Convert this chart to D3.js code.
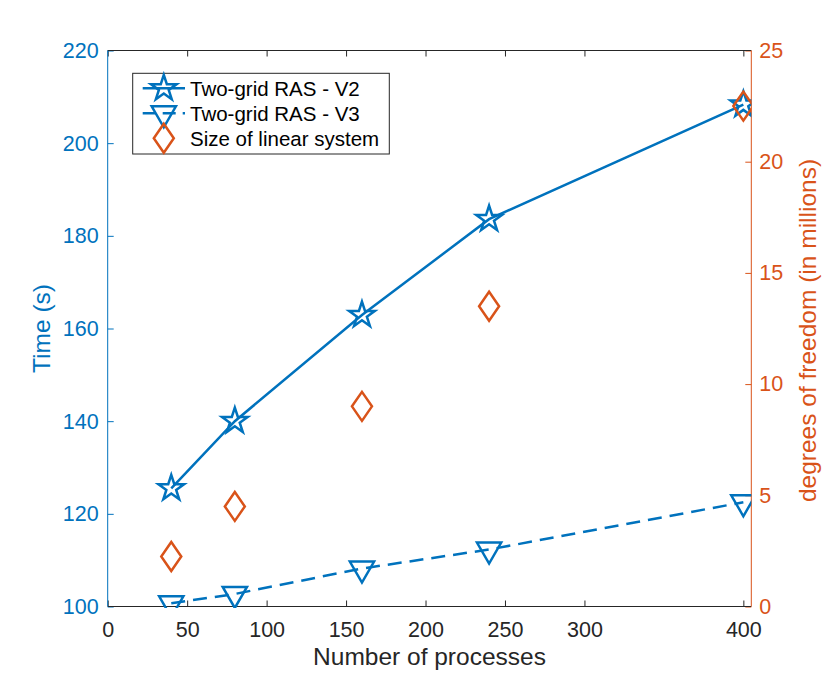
<!DOCTYPE html>
<html>
<head>
<meta charset="utf-8">
<script src="https://cdn.jsdelivr.net/npm/d3@7"></script>
<style>
  body { margin: 0; background: #fff; }
  svg text { font-family: "Liberation Sans", Arial, Helvetica, sans-serif; }
</style>
</head>
<body>
<div id="chart"></div>
<script>
// --- data ---
const processes = [40, 80, 160, 240, 400];
const timeV2 = [125.5, 140, 162.9, 183.6, 208.3];
const timeV3 = [100.7, 102.7, 108.2, 112.3, 122.5];
const dofMillions = [2.25, 4.5, 9, 13.5, 22.5];
const xTicks = [0, 50, 100, 150, 200, 250, 300, 400];
const leftTicks = [100, 120, 140, 160, 180, 200, 220];
const rightTicks = [0, 5, 10, 15, 20, 25];
const legendLabels = ["Two-grid RAS - V2", "Two-grid RAS - V3", "Size of linear system"];

const W = 830, H = 682;
const blue = "#0072BD", orange = "#D95319", dark = "#262626";
const box = { left: 107.7, right: 751.3, top: 50.5, bottom: 606.5 };

const svg = d3.select("#chart").append("svg")
    .attr("width", W).attr("height", H);

const x = d3.scaleLinear().domain([0, 405]).range([box.left, box.right]);
const yL = d3.scaleLinear().domain([100, 220]).range([box.bottom, box.top]);
const yR = d3.scaleLinear().domain([0, 25]).range([box.bottom, box.top]);

// marker shapes
const starPath = (r) => {
    const pts = [];
    for (let i = 0; i < 10; i++) {
        const a = -Math.PI / 2 + i * Math.PI / 5;
        const rr = i % 2 === 0 ? r : r * 0.382;
        pts.push([rr * Math.cos(a), rr * Math.sin(a)]);
    }
    return "M" + pts.map(p => p.join(",")).join("L") + "Z";
};
const triPath = (r) => {
    const s = r * Math.sin(Math.PI / 3);
    return `M${-s},${-r / 2}L${s},${-r / 2}L0,${r}Z`;
};
const diamondPath = (w, h) => `M0,${-h}L${w},0L0,${h}L${-w},0Z`;

const STAR = starPath(13.5), TRI = triPath(14), DIA = diamondPath(10, 14.5);

// clip to axes box
svg.append("defs").append("clipPath").attr("id", "plotclip")
  .append("rect")
    .attr("x", box.left).attr("y", box.top)
    .attr("width", box.right - box.left).attr("height", box.bottom - box.top + 1.5);

// --- axes ---
const tickFont = "21.5px";
const styleAxis = (g, color) => {
    g.select(".domain").remove();
    g.selectAll(".tick line").attr("stroke", color).attr("stroke-width", 1);
    g.selectAll(".tick text").attr("fill", color).style("font-size", tickFont);
};

svg.append("g").attr("transform", `translate(0,${box.bottom})`)
    .call(d3.axisBottom(x).tickValues(xTicks).tickSize(-6).tickPadding(15.5).tickFormat(d3.format("d")))
    .call(g => styleAxis(g, dark));

svg.append("g").attr("transform", `translate(0,${box.top})`)
    .call(d3.axisTop(x).tickValues(xTicks).tickSize(-6).tickFormat(""))
    .call(g => styleAxis(g, dark));

svg.append("g").attr("transform", `translate(${box.left},0)`)
    .call(d3.axisLeft(yL).tickValues(leftTicks).tickSize(-6).tickPadding(9))
    .call(g => styleAxis(g, blue));

svg.append("g").attr("transform", `translate(${box.right},0)`)
    .call(d3.axisRight(yR).tickValues(rightTicks).tickSize(-6).tickPadding(8))
    .call(g => styleAxis(g, orange));

// box lines
svg.append("line").attr("x1", box.left).attr("x2", box.right).attr("y1", box.bottom).attr("y2", box.bottom)
    .attr("stroke", dark).attr("stroke-width", 1);
svg.append("line").attr("x1", box.left).attr("x2", box.right).attr("y1", box.top).attr("y2", box.top)
    .attr("stroke", dark).attr("stroke-width", 1);
svg.append("line").attr("x1", box.left).attr("x2", box.left).attr("y1", box.top).attr("y2", box.bottom)
    .attr("stroke", blue).attr("stroke-width", 1);
svg.append("line").attr("x1", box.right).attr("x2", box.right).attr("y1", box.top).attr("y2", box.bottom)
    .attr("stroke", orange).attr("stroke-width", 1);

// axis labels
const labelFont = "24.5px";
svg.append("text").attr("x", (box.left + box.right) / 2).attr("y", 665)
    .attr("text-anchor", "middle").attr("fill", dark).style("font-size", labelFont)
    .text("Number of processes");
svg.append("text").attr("transform", `translate(50,${(box.top + box.bottom) / 2}) rotate(-90)`)
    .attr("text-anchor", "middle").attr("fill", blue).style("font-size", labelFont)
    .text("Time (s)");
svg.append("text").attr("transform", `translate(816,${(box.top + box.bottom) / 2 + 2}) rotate(-90)`)
    .attr("text-anchor", "middle").attr("fill", orange).style("font-size", labelFont)
    .text("degrees of freedom (in millions)");

// --- series ---
const plot = svg.append("g").attr("clip-path", "url(#plotclip)");
const lw = 2.5;

const v2 = processes.map((p, i) => [p, timeV2[i]]);
const v3 = processes.map((p, i) => [p, timeV3[i]]);
const dof = processes.map((p, i) => [p, dofMillions[i]]);

plot.append("path").datum(v2)
    .attr("d", d3.line().x(d => x(d[0])).y(d => yL(d[1])))
    .attr("fill", "none").attr("stroke", blue).attr("stroke-width", lw);
plot.selectAll(".star").data(v2).enter().append("path")
    .attr("transform", d => `translate(${x(d[0])},${yL(d[1])})`)
    .attr("d", STAR).attr("fill", "none").attr("stroke", blue).attr("stroke-width", lw)
    .attr("stroke-linejoin", "miter");

plot.append("path").datum(v3)
    .attr("d", d3.line().x(d => x(d[0])).y(d => yL(d[1])))
    .attr("fill", "none").attr("stroke", blue).attr("stroke-width", lw)
    .attr("stroke-dasharray", "14,8");
plot.selectAll(".tri").data(v3).enter().append("path")
    .attr("transform", d => `translate(${x(d[0])},${yL(d[1])})`)
    .attr("d", TRI).attr("fill", "none").attr("stroke", blue).attr("stroke-width", lw);

plot.selectAll(".dia").data(dof).enter().append("path")
    .attr("transform", d => `translate(${x(d[0])},${yR(d[1])})`)
    .attr("d", DIA).attr("fill", "none").attr("stroke", orange).attr("stroke-width", lw);

// --- legend ---
const leg = svg.append("g");
leg.append("rect").attr("x", 132.7).attr("y", 73.3).attr("width", 256.6).attr("height", 80.7)
    .attr("fill", "#fff").attr("stroke", dark).attr("stroke-width", 1);
const rowY = [88.3, 113.3, 138.3];
const legItems = [
    { d: STAR, color: blue, line: null },
    { d: TRI, color: blue, line: "13,7" },
    { d: DIA, color: orange, line: "none" }
];
legItems.forEach((it, i) => {
    const g = leg.append("g").attr("transform", `translate(0,${rowY[i]})`);
    if (it.line !== "none") {
        g.append("line").attr("x1", 142.7).attr("x2", 185).attr("y1", 0).attr("y2", 0)
            .attr("stroke", it.color).attr("stroke-width", lw)
            .attr("stroke-dasharray", it.line);
    }
    g.append("path").attr("transform", "translate(163.8,0)").attr("d", it.d)
        .attr("fill", "none").attr("stroke", it.color).attr("stroke-width", lw);
    g.append("text").attr("x", 190).attr("y", 7.4).attr("fill", "#000")
        .style("font-size", "20.5px").text(legendLabels[i]);
});
</script>
</body>
</html>
